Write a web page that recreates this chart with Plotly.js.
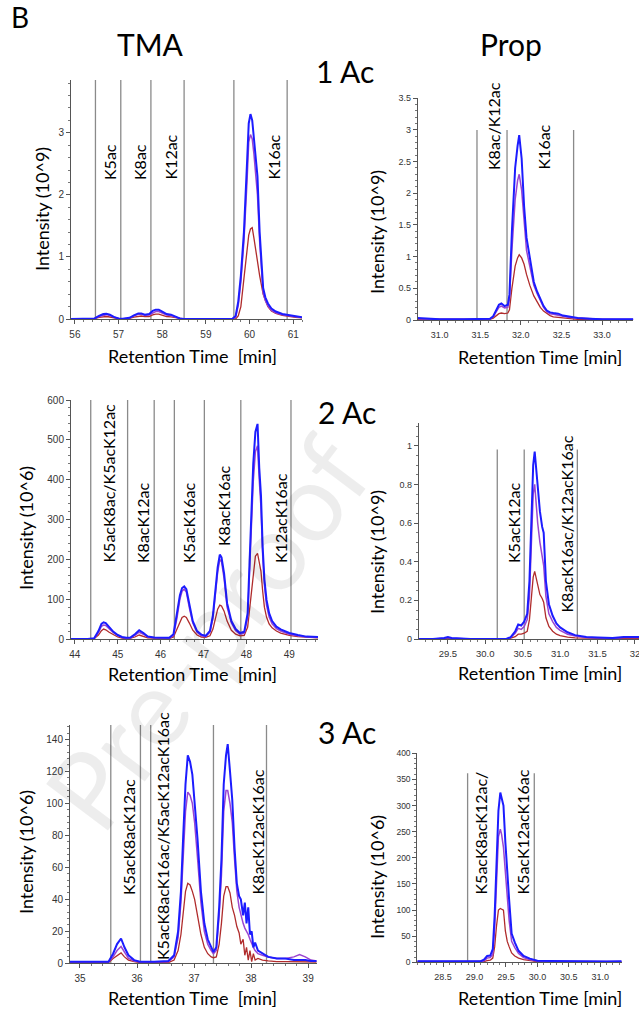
<!DOCTYPE html>
<html><head><meta charset="utf-8">
<script src="https://cdn.plot.ly/plotly-3.0.1.min.js"></script>
<style>html,body{margin:0;padding:0;background:#fff}#chart{width:639px;height:1012px}</style>
</head><body><div id="chart"></div>
<script>
// ---------- DATA ----------
// Panel 1: TMA, 1 Ac (intensity 10^9)
const tma1X = [55.9,56.3,56.45,56.55,56.65,56.72,56.8,56.9,57.0,57.1,57.25,57.35,57.45,57.52,57.6,57.7,57.78,57.85,57.92,58.0,58.1,58.2,58.3,58.4,58.5,58.8,59.2,59.6,59.68,59.74,59.8,59.87,59.94,59.98,60.02,60.06,60.1,60.14,60.18,60.23,60.27,60.31,60.36,60.42,60.5,60.6,60.75,60.9,61.05,61.2];
const tma1Blue = [0,0,0.01,0.05,0.08,0.085,0.07,0.03,0.01,0.005, 0.02,0.06,0.09,0.09,0.07,0.08,0.13,0.15,0.15,0.12, 0.08,0.07,0.04,0.01,0,0,0,0,0.05,0.28, 0.7,1.4,2.5,3.15,3.3,3.2,2.9,2.55,2.3,1.4, 0.85,0.5,0.35,0.25,0.17,0.12,0.08,0.06,0.04,0.03];
const tma1Purple = [0,0,0.008,0.04,0.065,0.07,0.055,0.025,0.008,0.004, 0.015,0.05,0.075,0.075,0.06,0.065,0.1,0.12,0.12,0.1, 0.065,0.055,0.03,0.008,0,0,0,0,0.03,0.22, 0.6,1.25,2.2,2.85,2.97,2.9,2.65,2.3,2.0,1.25, 0.75,0.42,0.3,0.21,0.14,0.1,0.07,0.05,0.035,0.025];
const tma1Red = [0,0,0.005,0.025,0.038,0.04,0.032,0.015,0.005,0.002, 0.01,0.03,0.045,0.048,0.038,0.04,0.065,0.08,0.08,0.065, 0.04,0.035,0.02,0.005,0,0,0,0,0,0.05, 0.2,0.65,1.1,1.35,1.45,1.47,1.3,1.1,0.9,0.7, 0.55,0.4,0.3,0.2,0.13,0.09,0.06,0.04,0.025,0.02];
const tma1Bounds = [56.47,57.05,57.74,58.5,59.64,60.86];
const tma1Labels = ["K5ac","K8ac","K12ac","K16ac"];

// Panel 2: Prop, 1 Ac (intensity 10^9)
const prop1X = [30.73,30.85,31.0,31.3,31.55,31.62,31.66,31.7,31.73,31.76,31.8,31.84,31.86,31.89,31.93,31.96,31.98,32.01,32.04,32.07,32.11,32.16,32.2,32.24,32.28,32.32,32.36,32.4,32.46,32.52,32.6,32.7,32.85,33.0,33.2,33.385];
const prop1Blue = [0.03,0.02,0.01,0.01,0.01,0.02,0.06,0.15,0.24,0.26,0.22,0.24,0.4,1.4,2.4,2.75,2.92,2.55,1.8,1.3,0.98,0.6,0.45,0.33,0.22,0.15,0.12,0.11,0.1,0.07,0.05,0.03,0.02,0.01,0.01,0.01];
const prop1Purple = [0.02,0.015,0.01,0.01,0.01,0.015,0.05,0.13,0.2,0.22,0.19,0.2,0.33,1.1,1.9,2.2,2.3,2.05,1.5,1.1,0.85,0.55,0.42,0.3,0.2,0.13,0.1,0.09,0.08,0.06,0.04,0.03,0.02,0.01,0.01,0.01];
const prop1Red = [0.01,0.01,0.005,0.005,0.005,0.01,0.03,0.07,0.1,0.11,0.1,0.11,0.16,0.5,0.85,0.98,1.03,0.98,0.88,0.72,0.55,0.38,0.28,0.2,0.14,0.1,0.07,0.05,0.04,0.03,0.02,0.01,0.01,0.005,0.005,0.005];
const prop1Bounds = [31.46,31.83,32.65];
const prop1Labels = ["K8ac/K12ac","K16ac"];

// Panel 3: TMA, 2 Ac (intensity 10^6)
const tma2X = [43.91,44.3,44.45,44.55,44.62,44.67,44.72,44.8,44.9,45.0, 45.1,45.2,45.3,45.4,45.5,45.6,45.7,45.85,46.0,46.2, 46.3,46.38,46.45,46.5,46.55,46.6,46.67,46.75,46.85,46.95, 47.05,47.15,47.22,47.28,47.33,47.38,47.42,47.48,47.55,47.65, 47.75,47.85,47.95,48.03,48.1,48.16,48.21,48.26,48.3,48.34, 48.38,48.42,48.47,48.53,48.6,48.7,48.8,49.0,49.2,49.4,49.67];
const tma2Blue = [0,0,2,20,38,42,40,30,18,10, 5,3,4,12,22,15,6,4,4,3, 12,60,110,128,132,125,85,45,20,11, 8,20,60,125,180,212,205,165,90,45, 25,15,18,65,250,440,520,540,430,360, 230,150,98,65,45,31,24,15,10,6,5];
const tma2Purple = [0,0,1,16,32,35,34,26,16,9, 4,2,3,9,17,12,5,3,3,2, 9,52,100,120,125,118,78,40,17,8, 6,17,52,112,168,200,194,152,80,40, 21,12,14,55,220,395,470,485,400,330, 210,135,85,55,38,26,20,12,8,5,4];
const tma2Red = [0,0,1,10,21,25,23,17,10,5, 2,1,2,5,10,7,3,2,2,1, 5,25,45,54,57,54,40,22,10,5, 4,8,25,55,75,85,83,70,45,22, 12,8,9,30,100,175,208,215,195,170, 120,80,55,38,28,20,15,9,6,4,3];
const tma2Bounds = [44.37,45.23,45.85,46.32,47.02,47.87,49.04];
const tma2Labels = ["K5acK8ac/K5acK12ac","K8acK12ac","K5acK16ac","K8acK16ac","K12acK16ac"];

// Panel 4: Prop, 2 Ac (intensity 10^9)
const prop2X = [29.11,29.3,29.45,29.5,29.55,29.8,30.1,30.28,30.34,30.4,30.44,30.48,30.52,30.56,30.59,30.62,30.64,30.66,30.68,30.7,30.73,30.76,30.78,30.81,30.85,30.9,30.95,31.0,31.1,31.2,31.35,31.5,31.7,31.85,31.9,32.054];
const prop2Blue = [0,0,0.005,0.01,0.005,0,0,0,0.01,0.04,0.075,0.07,0.09,0.13,0.3,0.7,0.9,0.97,0.88,0.8,0.66,0.58,0.55,0.3,0.18,0.12,0.08,0.06,0.035,0.02,0.01,0.008,0.005,0.01,0.01,0.01];
const prop2Purple = [0,0,0.004,0.008,0.004,0,0,0,0.008,0.03,0.055,0.05,0.065,0.1,0.22,0.55,0.75,0.8,0.7,0.6,0.5,0.42,0.38,0.22,0.13,0.09,0.06,0.045,0.025,0.015,0.008,0.006,0.004,0.008,0.008,0.008];
const prop2Red = [0,0,0.002,0.004,0.002,0,0,0,0.004,0.012,0.025,0.025,0.03,0.04,0.1,0.24,0.32,0.35,0.31,0.27,0.23,0.21,0.19,0.11,0.065,0.04,0.025,0.018,0.01,0.006,0.004,0.003,0.002,0.004,0.004,0.004];
const prop2Bounds = [30.16,30.52,31.23];
const prop2Labels = ["K5acK12ac","K8acK16ac/K12acK16ac"];
const prop2XTicks = [29.5,30.0,30.5,31.0,31.5,32.0];
const prop2XTickText = ["29.5","30.0","30.5","31.0","31.5","32"];

// Panel 5: TMA, 3 Ac (intensity 10^6)
const tma3X = [34.825,35.2,35.5,35.58,35.65,35.72,35.78,35.85,35.95,36.05, 36.3,36.55,36.65,36.72,36.77,36.81,36.85,36.89,36.93,36.97, 37.01,37.06,37.12,37.18,37.24,37.3,37.34,37.39,37.44,37.48, 37.52,37.56,37.59,37.63,37.67,37.71,37.75,37.79,37.82,37.86, 37.89,37.92,37.95,37.98,38.01,38.04,38.07,38.12,38.2,38.3, 38.45,38.6,38.75,38.85,38.95,39.05,39.15];
const tma3Blue = [1,1,1,6,12,15.5,10,5,2,1, 1,1.5,5,20,45,80,112,130,126,118, 102,78,45,25,15,10,7,10,35,65, 112,130,137,120,102,72,50,42,40,30, 38,25,35,18,20,10,13,8,6,4, 3,3,2,2,2,1.5,1.5];
const tma3Purple = [1,1,1,4,8,10.5,7,3,1.5,1, 1,1,4,16,38,68,95,107,105,100, 88,66,38,20,12,8,6,8,30,55, 95,108,108,100,88,65,45,35,30,25, 22,20,18,15,12,10,8,6,5,4, 3,3,4,5.5,4,2,1.5];
const tma3Red = [0.5,0.5,0.5,3,5,6.5,4,2,1,0.5, 0.5,0.5,2,8,18,32,45,50,49,45, 40,30,18,10,6,4,3.5,4,12,25, 42,48,48,44,35,30,23,19,12,15, 5,10,2,8,1,6,2,3,2,1.5, 1,1,1,1,1,1,0.8];
const tma3Bounds = [35.54,36.06,36.24,37.34,38.27];
const tma3Labels = ["K5acK8acK12ac","K5acK8acK16ac/K5acK12acK16ac","K8acK12acK16ac"];

// Panel 6: Prop, 3 Ac (intensity 10^6)
const prop3X = [28.09,28.5,28.8,29.0,29.1,29.15,29.2,29.25,29.29,29.32,29.35,29.38,29.41,29.43,29.46,29.49,29.52,29.55,29.59,29.64,29.7,29.78,29.88,30.0,30.2,30.5,30.7,30.9,31.1,31.34];
const prop3Blue = [2,2,1.5,1.5,2,5,12,13,25,90,190,290,325,315,300,230,170,120,55,38,22,12,7,3,2.5,2,3,1.5,1.5,2];
const prop3Purple = [2,1.5,1.5,1.5,1.5,3,8,9,15,65,160,240,255,245,220,170,120,80,40,28,17,9,5,2.5,2,1.5,2,1.5,1.5,1.5];
const prop3Red = [1,1,1,1,1,1.5,3,4,8,30,70,100,103,102,100,60,40,30,18,12,8,5,3,1.5,1,1,1,1,1,1];
const prop3Bounds = [28.89,29.95];
const prop3Labels = ["K5acK8acK12ac/","K5acK12acK16ac"];

const columnTitles = ["TMA","Prop"];
const rowTitles = ["1 Ac","2 Ac","3 Ac"];
const yTitles = ["Intensity (10^9)","Intensity (10^9)","Intensity (10^6)","Intensity (10^9)","Intensity (10^6)","Intensity (10^6)"];
const xTitle = "Retention Time  [min]";
const xTitleR = "Retention Time [min]";
const watermark = "Pre-proof";

// ---------- LAYOUT HELPERS ----------
const W = 639, H = 1012;
const px = v => v / W, py = v => 1 - v / H;
const BLUE = '#1c1cff', PURPLE = '#9b45d0', RED = '#b02c2c';
const TF = 'Lato, "Open Sans", sans-serif';
const TICKF = '"Liberation Sans", Arial, sans-serif';

const panels = [
  {x: tma1X, b: tma1Blue, p: tma1Purple, r: tma1Red, bounds: tma1Bounds, top: 3.85,
   dx: [71, 302], dy: [80, 319], xr: [55.91, 61.2], yr: [0, 3.85], xd: 1, xm: 0.2, yd: 1, ym: 0.2, xf: '', fs: 10, fsx: 10,
   labels: tma1Labels, lpos: [[110,182],[140,182],[170,182],[273,182]], yt: [42, 209], xt: [193, 356], xtt: xTitle},
  {x: prop1X, b: prop1Blue, p: prop1Purple, r: prop1Red, bounds: prop1Bounds, top: 3.0,
   dx: [417.7, 633.3], dy: [98.3, 320], xr: [30.73, 33.385], yr: [0, 3.5], xd: 0.5, xm: 0.1, yd: 0.5, ym: 0.1, xf: '.1f', fs: 9, fsx: 9,
   labels: prop1Labels, lpos: [[493,172],[543,172]], yt: [377, 232], xt: [540, 357], xtt: xTitleR},
  {x: tma2X, b: tma2Blue, p: tma2Purple, r: tma2Red, bounds: tma2Bounds, top: 600,
   dx: [71, 318], dy: [400, 639], xr: [43.91, 49.67], yr: [0, 600], xd: 1, xm: 0.2, yd: 100, ym: 20, xf: '', fs: 10, fsx: 10,
   labels: tma2Labels, lpos: [[108,565],[142,565],[188,565],[223,548],[280,565]], yt: [26, 528], xt: [193, 674], xtt: xTitle},
  {x: prop2X, b: prop2Blue, p: prop2Purple, r: prop2Red, bounds: prop2Bounds, top: 0.98,
   dx: [418.7, 639], dy: [422.7, 639], xr: [29.11, 32.054], yr: [0, 1.119], xd: 0.5, xm: 0.1, yd: 0.2, ym: 0.05, xf: '.1f', fs: 9, fsx: 9.5,
   tv: prop2XTicks, tt: prop2XTickText,
   labels: prop2Labels, lpos: [[513,565],[566,615]], yt: [377, 552], xt: [540, 673], xtt: xTitleR},
  {x: tma3X, b: tma3Blue, p: tma3Purple, r: tma3Red, bounds: tma3Bounds, top: 149,
   dx: [70, 316.7], dy: [725, 963.3], xr: [34.825, 39.15], yr: [0, 149], xd: 1, xm: 0.2, yd: 20, ym: 4, xf: '', fs: 10, fsx: 10,
   labels: tma3Labels, lpos: [[128,897],[162,962],[257,897]], yt: [26, 852], xt: [193, 998], xtt: xTitle},
  {x: prop3X, b: prop3Blue, p: prop3Purple, r: prop3Red, bounds: prop3Bounds, top: 362,
   dx: [417.3, 621.7], dy: [753.3, 962.3], xr: [28.09, 31.34], yr: [0, 400], xd: 0.5, xm: 0.1, yd: 50, ym: 10, xf: '.1f', fs: 8.5, fsx: 9,
   labels: prop3Labels, lpos: [[480,897],[522,897]], yt: [377, 877], xt: [540, 998], xtt: xTitleR}
];

const traces = [], shapes = [], annotations = [];
const layout = {
  width: W, height: H, margin: {l: 0, r: 0, t: 0, b: 0},
  paper_bgcolor: '#fff', plot_bgcolor: 'rgba(0,0,0,0)', showlegend: false
};

// faint diagonal watermark (kept inside the page)
annotations.push({text: watermark, xref: 'paper', yref: 'paper', x: px(205), y: py(632),
  xanchor: 'center', yanchor: 'middle', showarrow: false, textangle: -53,
  font: {family: TF, size: 108, color: 'rgba(0,0,0,0.07)'}});

panels.forEach((P, i) => {
  const s = i === 0 ? '' : String(i + 1);
  const xa = 'x' + s, ya = 'y' + s;
  [[P.r, RED, 1.3], [P.p, PURPLE, 1.5], [P.b, BLUE, 2]].forEach(([ys, c, w]) => {
    traces.push({x: P.x, y: ys, type: 'scatter', mode: 'lines', xaxis: xa, yaxis: ya,
      line: {color: c, width: w}, hoverinfo: 'skip'});
  });
  const xax = {
    domain: [px(P.dx[0]), px(P.dx[1])], range: P.xr, anchor: ya,
    showline: true, linecolor: '#555', linewidth: 1, ticks: 'outside', ticklen: 4, tickcolor: '#555',
    dtick: P.xd, tick0: 0, tickformat: P.xf, showgrid: false, zeroline: false,
    minor: {ticks: 'outside', ticklen: 2, dtick: P.xm, tickcolor: '#777', showgrid: false},
    tickfont: {family: TICKF, size: P.fsx, color: '#333'}, ticklabelstandoff: 2
  };
  if (P.tv) {
    xax.tickmode = 'array'; xax.tickvals = P.tv; xax.ticktext = P.tt; xax.ticklabeloverflow = 'allow';
  }
  layout['xaxis' + s] = xax;
  layout['yaxis' + s] = {
    domain: [py(P.dy[1]), py(P.dy[0])], range: P.yr, anchor: xa,
    showline: true, linecolor: '#555', linewidth: 1, ticks: 'outside', ticklen: 4, tickcolor: '#555',
    dtick: P.yd, tick0: 0, showgrid: false, zeroline: false,
    minor: {ticks: 'outside', ticklen: 2, dtick: P.ym, tickcolor: '#777', showgrid: false},
    tickfont: {family: TICKF, size: P.fs, color: '#333'}
  };
  P.bounds.forEach(bx => {
    shapes.push({type: 'line', xref: xa, yref: ya, x0: bx, x1: bx, y0: 0, y1: P.top,
      line: {color: '#8a8a8a', width: 1.3}, layer: 'below'});
  });
  P.labels.forEach((t, k) => {
    annotations.push({text: t, xref: 'paper', yref: 'paper', x: px(P.lpos[k][0]), y: py(P.lpos[k][1]),
      xanchor: 'center', yanchor: 'bottom', textangle: -90, showarrow: false,
      font: {family: TF, size: 16, color: '#000'}});
  });
  annotations.push({text: yTitles[i], xref: 'paper', yref: 'paper', x: px(P.yt[0]), y: py(P.yt[1]),
    xanchor: 'center', yanchor: 'middle', textangle: -90, showarrow: false,
    font: {family: TF, size: 18, color: '#000'}});
  annotations.push({text: P.xtt, xref: 'paper', yref: 'paper', x: px(P.xt[0]), y: py(P.xt[1]),
    xanchor: 'center', yanchor: 'middle', showarrow: false,
    font: {family: TF, size: 18, color: '#000'}});
});

// headings
const heads = [
  ['B', 20, 17, 28],
  [columnTitles[0], 150, 44, 30], [columnTitles[1], 511, 44, 30],
  [rowTitles[0], 345, 71, 30], [rowTitles[1], 347, 412, 30], [rowTitles[2], 347, 732, 30]
];
heads.forEach(([t, x, y, sz]) => annotations.push({text: t, xref: 'paper', yref: 'paper', x: px(x), y: py(y),
  xanchor: 'center', yanchor: 'middle', showarrow: false, font: {family: TF, size: sz, color: '#000'}}));

layout.shapes = shapes;
layout.annotations = annotations;
Plotly.newPlot('chart', traces, layout, {staticPlot: true, displayModeBar: false});
</script></body></html>
